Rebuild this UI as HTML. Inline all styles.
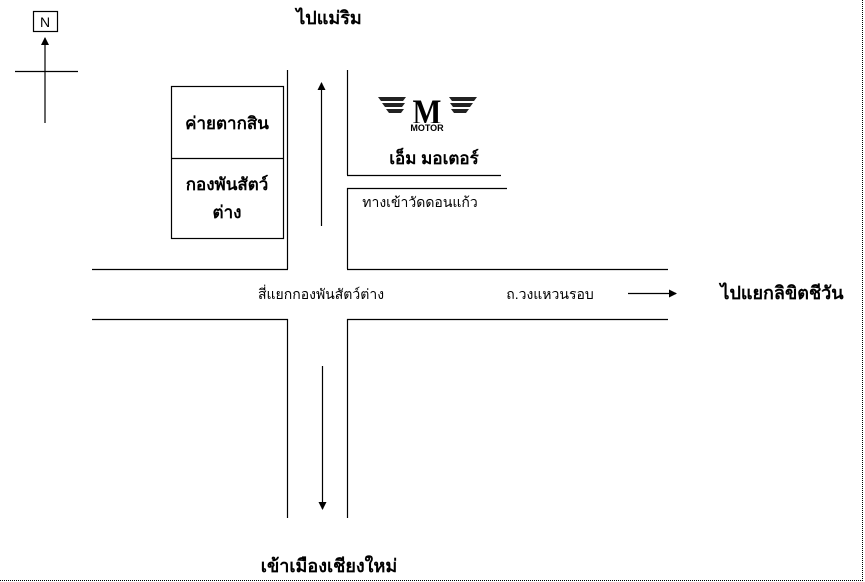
<!DOCTYPE html>
<html><head><meta charset="utf-8"><style>
html,body{margin:0;padding:0;background:#fff;}
svg{display:block;}
text{font-family:"Liberation Sans","DejaVu Sans",sans-serif;fill:#000;}
</style></head><body>
<svg width="865" height="582" viewBox="0 0 865 582" xmlns="http://www.w3.org/2000/svg">
<defs><marker id="a" markerWidth="8" markerHeight="8" refX="7" refY="4" orient="auto" markerUnits="userSpaceOnUse"><path d="M0,0 L8,4 L0,8 z" fill="#000"/></marker></defs>
<g stroke="#000" stroke-dasharray="1,1" stroke-width="1">
<line x1="862.5" y1="0" x2="862.5" y2="581"/>
<line x1="0" y1="580.5" x2="863" y2="580.5"/>
</g>
<g stroke="#000" stroke-width="1.2" fill="none">
<rect x="33.5" y="11.5" width="24" height="20"/>
<line x1="45" y1="123" x2="45" y2="38" marker-end="url(#a)"/>
<line x1="15" y1="71.5" x2="78" y2="71.5"/>
<rect x="171.5" y="86.5" width="112" height="152"/>
<line x1="171" y1="158.5" x2="283" y2="158.5"/>
<line x1="287.5" y1="70" x2="287.5" y2="269"/>
<line x1="347.5" y1="70" x2="347.5" y2="175"/>
<line x1="347" y1="175.5" x2="501" y2="175.5"/>
<line x1="347" y1="188.5" x2="507" y2="188.5"/>
<line x1="347.5" y1="188" x2="347.5" y2="269"/>
<line x1="321.5" y1="226" x2="321.5" y2="83" marker-end="url(#a)"/>
<line x1="92" y1="269.5" x2="288" y2="269.5"/>
<line x1="347" y1="269.5" x2="668" y2="269.5"/>
<line x1="92" y1="319.5" x2="288" y2="319.5"/>
<line x1="347" y1="319.5" x2="668" y2="319.5"/>
<line x1="287.5" y1="319" x2="287.5" y2="518"/>
<line x1="347.5" y1="319" x2="347.5" y2="518"/>
<line x1="322.5" y1="366" x2="322.5" y2="509" marker-end="url(#a)"/>
<line x1="628" y1="293.5" x2="676" y2="293.5" marker-end="url(#a)"/>
</g>
<text x="45" y="27" font-size="14" text-anchor="middle">N</text>
<text x="329" y="24" font-size="18" text-anchor="middle" font-weight="bold">ไปแม่ริม</text>
<text x="227" y="129" font-size="17" text-anchor="middle" font-weight="bold">ค่ายตากสิน</text>
<text x="227" y="190" font-size="17" text-anchor="middle" font-weight="bold">กองพันสัตว์</text>
<text x="227" y="218" font-size="17" text-anchor="middle" font-weight="bold">ต่าง</text>
<g>
<path d="M378,97 h28 l-3,4 h-22z M382,103 h23 l-3,4 h-17z M386,109 h18 l-3,4 h-12z M477,97 h-28 l3,4 h22z M473,103 h-23 l3,4 h17z M469,109 h-18 l3,4 h12z" fill="#222"/>
<text x="427" y="124" font-size="36" text-anchor="middle" style="font-family:'Liberation Serif',serif" font-weight="bold" fill="#111" transform="translate(427 0) scale(0.85 1) translate(-427 0)">M</text>
<rect x="406" y="123" width="43" height="9" fill="#fff"/>
<text x="427" y="131" font-size="9" text-anchor="middle" font-weight="bold" fill="#222">MOTOR</text>
</g>
<text x="434" y="164" font-size="17" text-anchor="middle" font-weight="bold">เอ็ม มอเตอร์</text>
<text x="420" y="207" font-size="14" text-anchor="middle">ทางเข้าวัดดอนแก้ว</text>
<text x="321" y="299" font-size="14" text-anchor="middle">สี่แยกกองพันสัตว์ต่าง</text>
<text x="550" y="299" font-size="14" text-anchor="middle">ถ.วงแหวนรอบ</text>
<text x="782" y="299" font-size="18" text-anchor="middle" font-weight="bold">ไปแยกลิขิตชีวัน</text>
<text x="329" y="572" font-size="18" text-anchor="middle" font-weight="bold">เข้าเมืองเชียงใหม่</text>
</svg>
</body></html>
